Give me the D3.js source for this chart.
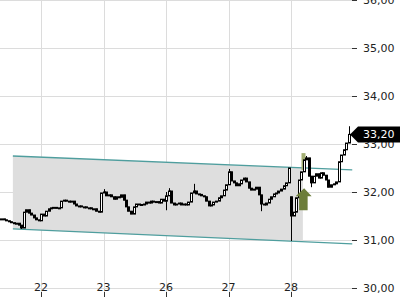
<!DOCTYPE html>
<html>
<head>
<meta charset="utf-8">
<script src="https://cdn.jsdelivr.net/npm/d3@7"></script>
<style>
  body { margin: 0; background: #fff; }
  svg { display: block; font-family: "DejaVu Sans", sans-serif; }
</style>
</head>
<body>
<div id="chart"></div>
<script>
// trading days shown on the axis (first one is only partly visible)
var days = ["21", "22", "23", "26", "27", "28"];
var barsPerDay = 25;
var firstBar = [9, 0, 0, 0, 0, 0];

// closing prices per bar
var close21 = [31.44, 31.42, 31.40, 31.38, 31.36, 31.35, 31.35, 31.31, 31.25, 31.58, 31.63, 31.56, 31.52, 31.46, 31.42, 31.40];
var close22 = [31.54, 31.50, 31.60, 31.65, 31.67, 31.68, 31.67, 31.67, 31.81, 31.83, 31.81, 31.79, 31.81, 31.75, 31.71, 31.71, 31.69, 31.69, 31.67, 31.67, 31.65, 31.65, 31.60, 31.58, 31.98];
var close23 = [32.00, 31.92, 31.94, 31.90, 31.85, 31.90, 31.89, 31.94, 31.83, 31.69, 31.60, 31.54, 31.69, 31.75, 31.74, 31.73, 31.75, 31.79, 31.77, 31.81, 31.79, 31.80, 31.77, 31.85, 31.81];
var close26 = [31.92, 32.02, 31.77, 31.73, 31.75, 31.77, 31.73, 31.75, 31.73, 31.79, 31.98, 32.02, 31.96, 31.95, 31.92, 31.90, 31.81, 31.71, 31.73, 31.79, 31.81, 31.88, 31.92, 32.04, 32.15];
var close27 = [32.42, 32.23, 32.19, 32.13, 32.17, 32.25, 32.29, 32.21, 32.08, 32.04, 32.06, 32.10, 31.94, 31.75, 31.73, 31.77, 31.85, 31.90, 31.96, 31.98, 32.02, 32.06, 32.13, 32.19, 32.50];
var close28 = [31.50, 31.58, 31.88, 32.25, 32.42, 32.67, 32.71, 32.33, 32.19, 32.33, 32.38, 32.29, 32.40, 32.35, 32.25, 32.10, 32.15, 32.17, 32.21, 32.63, 32.77, 32.88, 33.02, 33.20];
var closes = [close21, close22, close23, close26, close27, close28];

// opening gap on the 28th
var gapOpens = { 5: 31.90 };

// longer wicks: [day, bar, high, low]
var wicks = [
  [0, 17, null, 31.23],
  [2, 0, 32.06, null],
  [3, 0, 32.00, 31.62],
  [3, 1, 32.08, null],
  [3, 11, 32.17, null],
  [4, 0, 32.48, null],
  [4, 13, null, 31.60],
  [5, 0, null, 30.98],
  [5, 6, 32.75, null],
  [5, 8, null, 32.10],
  [5, 23, 33.37, null]
];

// trend channel: start / end time (day units) and prices
var channelT = [0.55, 5.98];
var channelUpper = [32.75, 32.46];
var channelLower = [31.23, 30.92];
var channelFillEnd = 5.19;

// buy signal
var signal = { t: 5.21, price: 32.08 };
var signalBar = { t: 5.2, high: 32.81, low: 32.46 };

var lastPrice = 33.20;
var yTicks = [30, 31, 32, 33, 34, 35, 36];

var width = 400, height = 300;
var plotRight = 352;

var svg = d3.select("#chart").append("svg")
  .attr("width", width)
  .attr("height", height);

var x = d3.scaleLinear().domain([0, 6]).range([-21.5, 353.5]);
var y = d3.scaleLinear().domain([30, 36]).range([288, 0]);

var fmt = function(v) { return d3.format(".2f")(v).replace(".", ","); };

// build OHLC bars
var bars = [];
var prev = null;
closes.forEach(function(arr, d) {
  arr.forEach(function(c, k) {
    var i = firstBar[d] + k;
    var o = prev == null ? c : prev;
    if (k == 0 && gapOpens[d] != null) o = gapOpens[d];
    bars.push({ d: d, i: i, t: d + i / barsPerDay, o: o, c: c,
                h: Math.max(o, c), l: Math.min(o, c) });
    prev = c;
  });
});
wicks.forEach(function(w) {
  var b = bars.find(function(b) { return b.d == w[0] && b.i == w[1]; });
  if (!b) return;
  if (w[2] != null) b.h = Math.max(b.h, w[2]);
  if (w[3] != null) b.l = Math.min(b.l, w[3]);
});

// grid
svg.append("g")
  .selectAll("line")
  .data(yTicks)
  .enter().append("line")
    .attr("x1", 0).attr("x2", plotRight)
    .attr("y1", function(d) { return Math.round(y(d)) + 0.5; })
    .attr("y2", function(d) { return Math.round(y(d)) + 0.5; })
    .attr("stroke", "#dcdcdc");

svg.append("g")
  .selectAll("line")
  .data(d3.range(1, days.length))
  .enter().append("line")
    .attr("x1", function(d) { return Math.round(x(d)) + 0.5; })
    .attr("x2", function(d) { return Math.round(x(d)) + 0.5; })
    .attr("y1", 0).attr("y2", 296)
    .attr("stroke", "#dcdcdc");

// channel fill and lines
var lineAt = function(vals, t) {
  var k = (t - channelT[0]) / (channelT[1] - channelT[0]);
  return vals[0] + (vals[1] - vals[0]) * k;
};
var poly = [
  [channelT[0], channelUpper[0]],
  [channelFillEnd, lineAt(channelUpper, channelFillEnd)],
  [channelFillEnd, lineAt(channelLower, channelFillEnd)],
  [channelT[0], channelLower[0]]
];
svg.append("path")
  .attr("d", d3.line().x(function(p) { return x(p[0]); }).y(function(p) { return y(p[1]); })(poly) + "Z")
  .attr("fill", "#dedede");

[channelUpper, channelLower].forEach(function(vals) {
  svg.append("line")
    .attr("x1", x(channelT[0])).attr("y1", y(vals[0]))
    .attr("x2", x(channelT[1])).attr("y2", y(vals[1]))
    .attr("stroke", "#4f9e9e")
    .attr("stroke-width", 1.3);
});

// signal bar highlight
svg.append("rect")
  .attr("x", x(signalBar.t) - 2)
  .attr("y", y(signalBar.high))
  .attr("width", 4)
  .attr("height", y(signalBar.low) - y(signalBar.high))
  .attr("fill", "#a3ae72");

// candles
var candles = svg.append("g");
candles.selectAll("line")
  .data(bars)
  .enter().append("line")
    .attr("x1", function(b) { return Math.round(x(b.t)) + 0.5; })
    .attr("x2", function(b) { return Math.round(x(b.t)) + 0.5; })
    .attr("y1", function(b) { return y(b.h); })
    .attr("y2", function(b) { return y(b.l); })
    .attr("stroke", "#000");

candles.selectAll("rect")
  .data(bars)
  .enter().append("rect")
    .attr("x", function(b) { return Math.round(x(b.t)) - 0.5; })
    .attr("y", function(b) { return y(Math.max(b.o, b.c)); })
    .attr("width", 2)
    .attr("height", function(b) { return Math.max(1, Math.abs(y(b.o) - y(b.c))); })
    .attr("fill", function(b) { return b.c >= b.o ? "#fff" : "#000"; })
    .attr("stroke", "#000")
    .attr("stroke-width", 1);

// buy arrow
var ax = x(signal.t), ay = y(signal.price);
svg.append("path")
  .attr("d", "M" + ax + "," + ay +
    "L" + (ax + 7.5) + "," + (ay + 8) +
    "L" + (ax + 3.5) + "," + (ay + 8) +
    "L" + (ax + 3.5) + "," + (ay + 22) +
    "L" + (ax - 5) + "," + (ay + 22) +
    "L" + (ax - 5) + "," + (ay + 8) +
    "L" + (ax - 8.5) + "," + (ay + 8) + "Z")
  .attr("fill", "#6c7d3a");

// y axis on the right
var yAxis = svg.append("g");
yAxis.selectAll("line")
  .data(yTicks)
  .enter().append("line")
    .attr("x1", plotRight).attr("x2", plotRight + 5)
    .attr("y1", function(d) { return Math.round(y(d)) + 0.5; })
    .attr("y2", function(d) { return Math.round(y(d)) + 0.5; })
    .attr("stroke", "#333");
yAxis.selectAll("text")
  .data(yTicks)
  .enter().append("text")
    .attr("x", 363)
    .attr("y", function(d) { return y(d); })
    .attr("dy", "0.35em")
    .attr("font-size", 11)
    .attr("fill", "#222")
    .text(fmt);

// x axis labels and ticks
var xAxis = svg.append("g");
xAxis.selectAll("line")
  .data(d3.range(1, days.length))
  .enter().append("line")
    .attr("x1", function(d) { return Math.round(x(d)) + 0.5; })
    .attr("x2", function(d) { return Math.round(x(d)) + 0.5; })
    .attr("y1", 292).attr("y2", 297)
    .attr("stroke", "#333");
xAxis.selectAll("text")
  .data(d3.range(1, days.length))
  .enter().append("text")
    .attr("x", function(d) { return x(d); })
    .attr("y", 287)
    .attr("dy", "0.35em")
    .attr("text-anchor", "middle")
    .attr("font-size", 11)
    .attr("fill", "#222")
    .text(function(d) { return days[d]; });

// last price tag
var ly = y(lastPrice);
svg.append("path")
  .attr("d", "M350," + ly + "L358," + (ly - 8) + "L400," + (ly - 8) + "L400," + (ly + 8) + "L358," + (ly + 8) + "Z")
  .attr("fill", "#000");
svg.append("text")
  .attr("x", 363)
  .attr("y", ly)
  .attr("dy", "0.35em")
  .attr("font-size", 11)
  .attr("fill", "#fff")
  .text(fmt(lastPrice));
</script>
</body>
</html>
